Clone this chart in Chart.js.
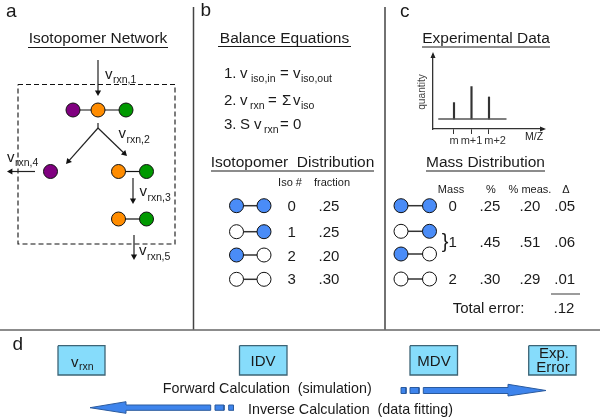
<!DOCTYPE html>
<html>
<head>
<meta charset="utf-8">
<style>
  html, body { margin: 0; background: #fff; }
  #wrap { position: relative; width: 600px; height: 419px; overflow: hidden; }
  canvas { position: absolute; display: block; }
</style>
<script src="https://cdn.jsdelivr.net/npm/chart.js@4"></script>
</head>
<body>
<div id="wrap">
  <canvas id="fig" width="600" height="419" style="left:0;top:0;width:600px;height:419px"></canvas>
  <canvas id="spec" width="150" height="105" style="left:410px;top:45px;width:150px;height:105px"></canvas>
</div>
<script>
// --- values ---
const isoNumbers = ['0', '1', '2', '3'];
const isoFractions = ['.25', '.25', '.20', '.30'];
const massNumbers = ['0', '1', '2'];
const massCalc = ['.25', '.45', '.30'];
const massMeas = ['.20', '.51', '.29'];
const massDelta = ['.05', '.06', '.01'];
const totalError = '.12';
const peakPositions = [0, 1, 2];
const peakLabels = ['m', 'm+1', 'm+2'];
const peakHeights = [19, 37.5, 25.5];
const baselineX = [-0.9, 3];

// --- colours ---
const INK = '#1a1a1a', RULE = '#666', PURPLE = '#800080', ORANGE = '#ff8c00', GREEN = '#009900';
const BLUE = '#4a8cf7', SKY = '#86dcfb', SKY_EDGE = '#3d6476', ARROW = '#3e84ec', ARROW_EDGE = '#2a5a9e';
const FONT = '"Liberation Sans", Arial, sans-serif';

// --- dataset helpers (figure scale is the 600x419 page itself) ---
function nodes(pts, fill) {
  return { data: pts.map(p => ({ x: p[0], y: p[1] })), showLine: false, pointRadius: 7, pointBackgroundColor: fill,
    pointBorderColor: '#111', pointBorderWidth: 1 };
}
function line(pts, color, width, dash) {
  return { data: pts.map(p => ({ x: p[0], y: p[1] })), showLine: true, pointRadius: 0, borderColor: color,
    borderWidth: width, borderDash: dash || [], tension: 0 };
}
function arrow(x1, y1, x2, y2) {
  const len = Math.hypot(x2 - x1, y2 - y1), r = 3.6;
  const hx = x2 - (x2 - x1) / len * r, hy = y2 - (y2 - y1) / len * r;
  const ds = line([[x1, y1], [hx, hy]], '#222', 1.2);
  ds.pointRadius = [0, r];
  ds.pointStyle = 'triangle';
  ds.pointRotation = [0, Math.atan2(x2 - x1, y1 - y2) * 180 / Math.PI];
  ds.pointBackgroundColor = '#111';
  ds.pointBorderColor = '#111';
  ds.pointBorderWidth = 0;
  return ds;
}
function shape(pts, fill, edge, width) {
  const ds = line(pts.concat([pts[0]]), edge, width);
  ds.fill = 'shape';
  ds.backgroundColor = fill;
  return ds;
}
function rect(x1, y1, x2, y2, fill, edge, width) {
  return shape([[x1, y1], [x2, y1], [x2, y2], [x1, y2]], fill, edge, width);
}

// isotopomer rows: left/right filled state per row
const rowsB = [[205.7, BLUE, BLUE], [231.7, '#fff', BLUE], [255, BLUE, '#fff'], [279.3, '#fff', '#fff']];
const rowsC = [[205.7, BLUE, BLUE], [231.3, '#fff', BLUE], [254, BLUE, '#fff'], [279, '#fff', '#fff']];

const figDatasets = [
  nodes([[73, 110], [50.5, 171.5]], PURPLE),
  nodes([[98, 110], [118.5, 171.5], [118.5, 219]], ORANGE),
  nodes([[126, 110], [146.5, 171.5], [146.5, 219]], GREEN)
];
[[236.5, 264, rowsB], [401, 429.5, rowsC]].forEach(([xl, xr, rows]) => {
  rows.forEach(r => {
    figDatasets.push(nodes([[xl, r[0]]], r[1]), nodes([[xr, r[0]]], r[2]));
    figDatasets.push(line([[xl, r[0]], [xr, r[0]]], '#333', 1.5));
  });
});
figDatasets.push(
  line([[73, 110], [126, 110]], '#111', 1.2),
  line([[118.5, 171.5], [146.5, 171.5]], '#111', 1.2),
  line([[118.5, 219], [146.5, 219]], '#111', 1.2),
  // reaction arrows
  arrow(98, 60, 98, 96),
  line([[98, 123], [98, 128]], '#222', 1.2),
  arrow(98, 128, 127, 156),
  arrow(98, 128, 66, 164),
  arrow(35, 171.5, 7, 171.5),
  arrow(133, 178, 133, 204),
  arrow(134, 235, 134, 260),
  // system boundary
  line([[18, 84.5], [175, 84.5], [175, 244], [18, 244], [18, 84.5]], '#111', 1.1, [5, 3]),
  // panel rules and title underlines
  line([[193.5, 7], [193.5, 329.5]], '#444', 1.5),
  line([[385, 7], [385, 329.5]], '#444', 1.5),
  line([[0, 330], [600, 330]], RULE, 1.5),
  line([[28, 47.5], [168, 47.5]], INK, 1),
  line([[218, 46.5], [351, 46.5]], INK, 1),
  line([[211, 171], [374, 171]], RULE, 1.3),
  line([[422, 47], [550, 47]], INK, 1),
  line([[426, 171], [545, 171]], RULE, 1.3),
  line([[551, 294], [580, 294]], RULE, 1.3),
  // panel d boxes
  rect(58, 345.7, 105, 375, SKY, SKY_EDGE, 1.3),
  rect(239.5, 345.7, 287, 375, SKY, SKY_EDGE, 1.3),
  rect(410, 345.7, 457.5, 375, SKY, SKY_EDGE, 1.3),
  rect(528.7, 345.7, 576, 375, SKY, SKY_EDGE, 1.3),
  // forward arrow
  rect(401, 387.5, 406, 393.5, ARROW, ARROW_EDGE, 1),
  rect(410, 387.5, 419, 393.5, ARROW, ARROW_EDGE, 1),
  shape([[423.3, 387.5], [508, 387.5], [508, 384.3], [546, 390.5], [508, 396], [508, 393.5], [423.3, 393.5]], ARROW, ARROW_EDGE, 1),
  // inverse arrow
  rect(228.7, 405, 233.5, 410.3, ARROW, ARROW_EDGE, 1),
  rect(215, 405, 224, 410.3, ARROW, ARROW_EDGE, 1),
  shape([[210.7, 405], [126, 405], [126, 401.7], [90, 407.7], [126, 413.3], [126, 410.3], [210.7, 410.3]], ARROW, ARROW_EDGE, 1)
);

// --- text: [string, x, baseline, size, align] ---
const texts = [
  ['a', 6, 16.5, 19, 'left'], ['b', 200.5, 16, 19, 'left'], ['c', 400, 16.5, 19, 'left'], ['d', 12.5, 350, 19, 'left'],
  ['Isotopomer Network', 98, 43, 15.5, 'center'],
  ['Balance Equations', 284.5, 43, 15.5, 'center'],
  ['Isotopomer  Distribution', 292.5, 167, 15.5, 'center'],
  ['Experimental Data', 486, 43, 15.5, 'center'],
  ['Mass Distribution', 485.5, 167, 15.5, 'center'],
  ['1.', 224, 78, 15, 'left'], ['v', 240, 78, 15, 'left'], ['iso,in', 251, 81.5, 10.5, 'left'],
  ['=', 280, 78, 15, 'left'], ['v', 293, 78, 15, 'left'], ['iso,out', 301, 81.5, 10.5, 'left'],
  ['2.', 224, 105, 15, 'left'], ['v', 240, 105, 15, 'left'], ['rxn', 250, 108.5, 10.5, 'left'],
  ['=', 268, 105, 15, 'left'], ['Σ', 282, 105, 15, 'left'], ['v', 293, 105, 15, 'left'], ['iso', 301, 108.5, 10.5, 'left'],
  ['3.', 224, 129, 15, 'left'], ['S', 240, 129, 15, 'left'], ['v', 254, 129, 15, 'left'], ['rxn', 264, 133, 10.5, 'left'],
  ['=', 280, 129, 15, 'left'], ['0', 293, 129, 15, 'left'],
  ['v', 105, 78.5, 15, 'left'], ['rxn,1', 113, 83, 10.5, 'left'],
  ['v', 118.5, 138, 15, 'left'], ['rxn,2', 126.5, 142.5, 10.5, 'left'],
  ['v', 7, 161.5, 15, 'left'], ['rxn,4', 15, 166, 10.5, 'left'],
  ['v', 139.5, 196, 15, 'left'], ['rxn,3', 147.5, 200.5, 10.5, 'left'],
  ['v', 139, 255, 15, 'left'], ['rxn,5', 147, 259.5, 10.5, 'left'],
  ['Iso #', 290, 186, 11, 'center'], ['fraction', 332, 186, 11, 'center'],
  ['Mass', 451, 192.5, 11, 'center'], ['%', 491, 192.5, 11, 'center'], ['% meas.', 530, 192.5, 11, 'center'], ['Δ', 566, 192.5, 11, 'center'],
  ['M/Z', 534, 140, 10.5, 'center'],
  ['}', 445, 248, 20, 'center'],
  ['Total error:', 452.7, 313.3, 15, 'left'], [totalError, 564, 313.3, 15, 'center'],
  ['v', 71, 366.7, 15, 'left'], ['rxn', 79, 370, 10.5, 'left'],
  ['IDV', 263, 366, 15, 'center'], ['MDV', 434, 366, 15, 'center'],
  ['Exp.', 554, 358, 15, 'center'], ['Error', 553, 372, 15, 'center'],
  ['Forward Calculation  (simulation)', 162.7, 393, 14.3, 'left'],
  ['Inverse Calculation  (data fitting)', 248, 414, 14.3, 'left']
];
const isoRowY = [211, 236.7, 260.7, 284];
isoNumbers.forEach((s, i) => texts.push([s, 291.7, isoRowY[i], 15, 'center'], [isoFractions[i], 329, isoRowY[i], 15, 'center']));
const massRowY = [211, 247, 284];
massNumbers.forEach((s, i) => texts.push(
  [s, 452.7, massRowY[i], 15, 'center'], [massCalc[i], 490, massRowY[i], 15, 'center'],
  [massMeas[i], 530, massRowY[i], 15, 'center'], [massDelta[i], 564.7, massRowY[i], 15, 'center']));

const textPlugin = {
  id: 'figText',
  afterDatasetsDraw(chart) {
    const { ctx, scales } = chart;
    ctx.save();
    ctx.fillStyle = INK;
    ctx.textBaseline = 'alphabetic';
    texts.forEach(([s, x, y, size, align]) => {
      ctx.font = size + 'px ' + FONT;
      ctx.textAlign = align;
      ctx.fillText(s, scales.x.getPixelForValue(x), scales.y.getPixelForValue(y));
    });
    ctx.restore();
  }
};

new Chart(document.getElementById('fig'), {
  type: 'scatter',
  data: { datasets: figDatasets },
  options: {
    responsive: false, animation: false, events: [],
    layout: { padding: 0, autoPadding: false },
    plugins: { legend: { display: false }, tooltip: { enabled: false } },
    scales: {
      x: { type: 'linear', min: 0, max: 600, display: false },
      y: { type: 'linear', min: 0, max: 419, reverse: true, display: false }
    }
  },
  plugins: [textPlugin]
});

// --- inset spectrum ---
const axisArrows = {
  id: 'axisArrows',
  afterDraw(chart) {
    const { ctx, chartArea: a } = chart;
    ctx.save();
    ctx.fillStyle = '#222';
    ctx.beginPath();
    ctx.moveTo(a.left, a.top - 3); ctx.lineTo(a.left - 2.5, a.top + 3); ctx.lineTo(a.left + 2.5, a.top + 3); ctx.closePath();
    ctx.moveTo(a.right + 3, a.bottom); ctx.lineTo(a.right - 3, a.bottom - 2.5); ctx.lineTo(a.right - 3, a.bottom + 2.5); ctx.closePath();
    ctx.fill();
    ctx.restore();
  }
};

new Chart(document.getElementById('spec'), {
  type: 'bar',
  data: {
    datasets: [
      { type: 'line', data: baselineX.map(x => ({ x, y: 0 })), borderColor: '#555', borderWidth: 1.5, pointRadius: 0 },
      { data: peakPositions.map((x, i) => ({ x, y: peakHeights[i] })), backgroundColor: '#333', barThickness: 1.5 }
    ]
  },
  options: {
    responsive: false, animation: false, events: [],
    layout: { padding: { top: 10, right: 17, left: 6, bottom: 0 }, autoPadding: false },
    plugins: { legend: { display: false }, tooltip: { enabled: false } },
    scales: {
      x: {
        type: 'linear', min: -1.2, max: 5.086, offset: false,
        afterBuildTicks: s => { s.ticks = peakPositions.map(v => ({ value: v })); },
        afterFit: s => { s.height = 21; },
        grid: { offset: false, drawOnChartArea: false, tickLength: 5, tickColor: '#333', tickWidth: 1 },
        border: { color: '#333', width: 1.3 },
        // leading spaces nudge the last label right so it clears m+1, as in the figure
        ticks: { autoSkip: false, maxRotation: 0, padding: 0, color: '#333', font: { size: 11, family: FONT },
          callback: v => (v === 2 ? '    ' : '') + peakLabels[v] }
      },
      y: {
        type: 'linear', min: -11.5, max: 74,
        afterFit: s => { s.width = 17; },
        grid: { display: false },
        border: { color: '#333', width: 1.3 },
        ticks: { display: false },
        title: { display: true, text: 'quantity', color: '#444', padding: 0, font: { size: 10.2, family: FONT } }
      }
    }
  },
  plugins: [axisArrows]
});
</script>
</body>
</html>
